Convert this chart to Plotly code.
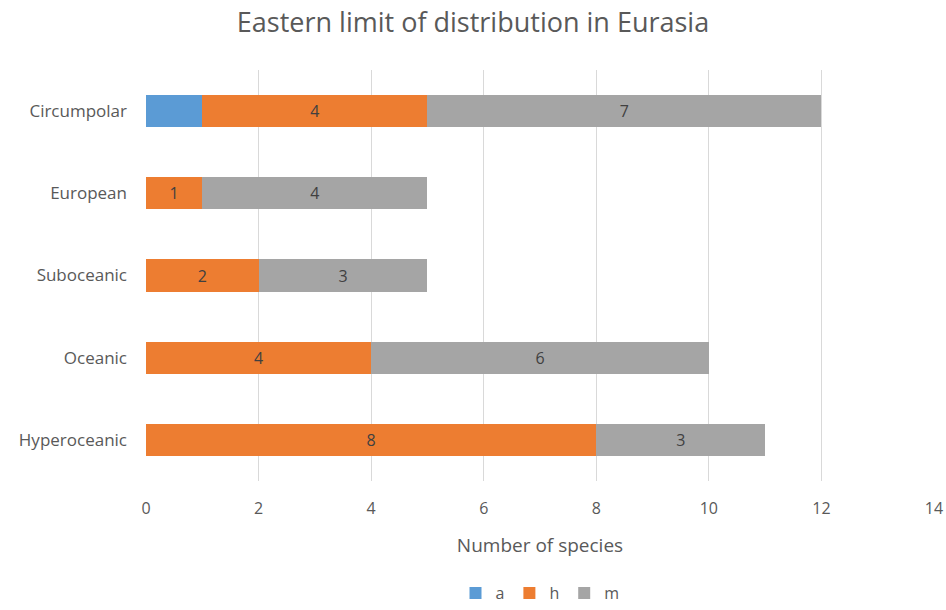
import plotly.graph_objects as go

categories = ["Hyperoceanic", "Oceanic", "Suboceanic", "European", "Circumpolar"]
a_vals = [0, 0, 0, 0, 1]
h_vals = [8, 4, 2, 1, 4]
m_vals = [3, 6, 3, 4, 7]
x_ticks = [0, 2, 4, 6, 8, 10, 12, 14]

font = "Open Sans"
txt_col = "#595959"

def labels(vals, show=True):
    return [str(v) if (v and show) else "" for v in vals]

fig = go.Figure()
series = [("a", a_vals, "#5b9bd5", False), ("h", h_vals, "#ed7d31", True), ("m", m_vals, "#a5a5a5", True)]
for name, vals, col, show in series:
    fig.add_trace(go.Bar(
        y=categories, x=vals, name=name, orientation="h",
        marker=dict(color=col, line=dict(width=0)),
        text=labels(vals, show), textposition="inside", insidetextanchor="middle",
        textfont=dict(family=font, size=16, color="#404040"),
        hoverinfo="x+y+name",
    ))

fig.update_layout(
    barmode="stack",
    bargap=0.61,
    width=946, height=610,
    margin=dict(l=146, r=12, t=70, b=129, autoexpand=False),
    paper_bgcolor="white", plot_bgcolor="white",
    font=dict(family=font, color=txt_col, size=15),
    title=dict(text="Eastern limit of distribution in Eurasia", x=0.5, xanchor="center",
               y=0.963, yanchor="middle", font=dict(family=font, size=27, color=txt_col)),
    xaxis=dict(range=[0, 14], tickvals=x_ticks, showgrid=True, gridcolor="#d9d9d9", gridwidth=1,
               zeroline=False, showline=False, ticklabelstandoff=16, automargin=False,
               tickfont=dict(family=font, size=16, color=txt_col),
               title=dict(text="Number of species", standoff=20,
                          font=dict(family=font, size=19, color=txt_col))),
    yaxis=dict(showgrid=False, zeroline=False, showline=False, ticks="", ticklabelstandoff=18,
               automargin=False,
               tickfont=dict(family=font, size=17, color=txt_col)),
    legend=dict(orientation="h", x=0.5, xanchor="center", yref="container", y=-0.013,
                yanchor="bottom",
                font=dict(family=font, size=16, color=txt_col), traceorder="normal",
                itemwidth=30, tracegroupgap=0),
    showlegend=True,
)

fig.write_html("out.html")
